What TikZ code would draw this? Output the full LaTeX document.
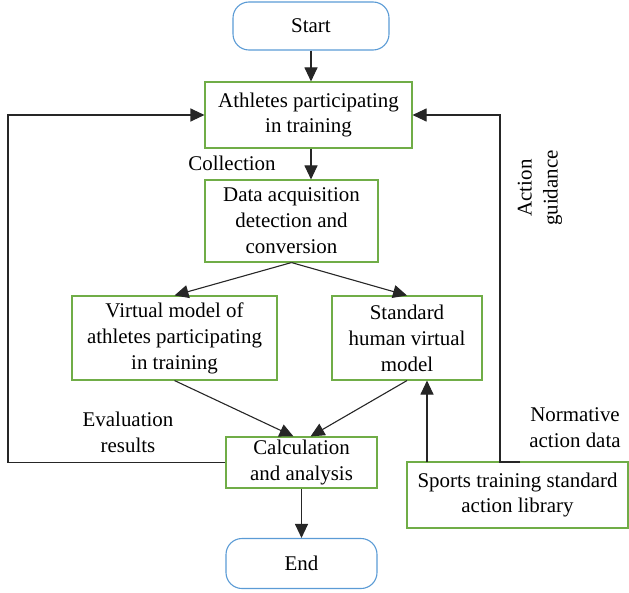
\documentclass[tikz,border=0pt]{standalone}
\usepackage{fontspec}
\setmainfont{Liberation Serif}
\usetikzlibrary{positioning,arrows.meta}
\definecolor{boxgreen}{RGB}{112,173,71}
\definecolor{termblue}{RGB}{91,155,213}
\tikzset{
    term/.style={draw=termblue, rounded corners=16bp, minimum width=151bp, minimum height=50bp, font=\fontsize{21}{26}\selectfont},
    proc/.style={draw=boxgreen, align=center, inner sep=1bp, font=\fontsize{21}{26}\selectfont},
    lbl/.style={align=center, font=\fontsize{21}{26}\selectfont},
    arr/.style={-{Triangle[length=14bp,width=13bp]}, line width=1.1bp, draw=black!85}
}

\begin{document}
\begin{tikzpicture}[x=1bp, y=-1bp, line width=1.1bp]
    \useasboundingbox (0,0) rectangle (629,593);

    \node[term, minimum width=156bp, minimum height=48bp] (start) at (311,26) {Start};
    \node[proc, minimum width=207bp, minimum height=66bp] (athletes) at (308.5,115) {Athletes participating\\in training};
    \node[proc, minimum width=173bp, minimum height=82bp] (data) at (291.5,221) {Data acquisition\\detection and\\conversion};
    \node[proc, minimum width=205bp, minimum height=84bp] (virtual) at (174.5,338) {Virtual model of\\athletes participating\\in training};
    \node[proc, minimum width=150bp, minimum height=84bp] (standard) at (407,338) {Standard\\human virtual\\model};
    \node[proc, minimum width=151bp, minimum height=51bp] (calc) at (301.5,462.5) {Calculation\\and analysis};
    \node[term] (end) at (301.5,563.5) {End};
    \node[proc, minimum width=221bp, minimum height=66bp] (library) at (517.5,495) {Sports training standard\\action library};

    \node[lbl] (collection) at (232,163) {Collection};
    \node[lbl] (evaluation) at (128,432) {Evaluation\\results};
    \node[lbl] (normative) at (575,428) {Normative\\action data};
    \node[lbl, rotate=90] (guidance) at (540,188) {Action\\guidance};

    \coordinate (guide0) at (520,462);
    \coordinate (guide1) at (500,462);
    \coordinate (lib0) at (427,462);
    \coordinate (loop0) at (8,462.5);

    \draw[arr] (start) -- (start.south |- athletes.north);
    \draw[arr] (athletes.south -| start.south) -- (data.north -| start.south);
    \draw[arr] (data.south) -- (virtual.north);
    \draw[arr] (data.south) -- (standard.north);
    \draw[arr] (virtual.south) -- ([xshift=-8bp]calc.north);
    \draw[arr] (standard.south) -- ([xshift=9bp]calc.north);
    \draw[arr] (calc) -- (end);
    \draw[arr] (lib0) -- (lib0 |- standard.south);
    \draw[arr] (guide0) -- (guide1) |- (athletes.east);
    \draw[arr] (calc.west) -- (loop0) |- (athletes.west);

\end{tikzpicture}
\end{document}
